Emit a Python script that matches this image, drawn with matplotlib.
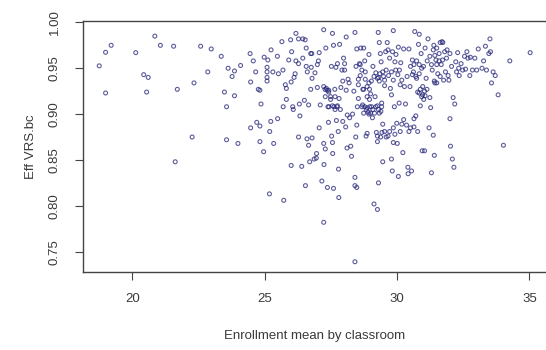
import matplotlib.pyplot as plt

# Enrollment mean by classroom (x) and Eff VRS.bc (y)
enrollment = [
    18.75, 18.99, 18.99, 19.2, 20.13, 20.43, 20.6, 20.54, 20.85, 21.06,
    21.56, 21.7, 21.62, 22.26, 22.33, 22.58, 22.85, 22.98, 23.36, 23.48,
    23.56, 23.56, 23.62, 23.77, 23.86, 23.86, 23.99, 24.09,
    24.45, 24.57, 24.47, 24.47, 24.7, 24.76, 24.82, 24.66, 24.82, 24.86,
    24.82, 24.96, 24.98, 25.24, 25.09, 25.09, 25.09, 25.09, 25.12, 25.19,
    25.23, 25.34, 25.18, 25.31, 25.49, 25.52, 25.48, 25.65, 25.69, 25.7,
    25.72, 25.78, 25.82, 25.82, 25.91, 25.98, 26.0, 26.0, 26.02, 26.06,
    26.11, 26.15, 26.18, 26.18, 26.28, 26.31, 26.28, 26.4, 26.44, 26.53,
    26.5, 26.54, 26.57, 26.6, 26.61, 26.66, 26.66, 26.7, 26.74, 26.78,
    26.74, 26.79, 26.79, 26.87, 26.96, 26.95, 26.99, 27.03, 27.06, 27.06,
    27.1, 26.99, 27.16, 27.23, 27.23, 27.23, 27.24, 27.23, 27.28, 27.29,
    27.31, 27.29, 27.36, 27.37, 27.41, 27.42, 27.43, 27.49, 27.52, 27.53,
    27.56, 27.56, 27.57, 27.6, 27.6, 27.62, 27.65, 27.66, 27.69, 27.71,
    27.73, 27.75, 27.78, 27.79, 27.8, 27.81, 27.83, 27.86, 27.88, 27.92,
    27.95, 27.95, 27.98, 28.02, 28.02, 28.06, 28.08, 28.08, 28.11, 28.12,
    28.15, 28.19, 28.21, 28.25, 28.28, 28.32, 28.37, 28.41, 28.41, 28.41,
    28.48, 28.41, 28.44, 28.48, 28.45, 28.48, 28.5, 28.54, 28.54, 28.58,
    28.61, 28.63, 28.67, 28.71, 28.74, 28.74, 28.78, 28.8, 28.83, 28.87,
    28.87, 28.87, 28.91, 28.94, 28.96, 29.0, 29.03, 29.04, 29.07, 29.09,
    29.13, 29.17, 29.2, 29.22, 29.26, 29.26, 29.29, 29.3, 29.3, 29.33,
    29.33, 29.37, 29.38, 29.4, 29.42, 29.46, 29.46, 29.49, 29.53, 29.57,
    29.59, 29.59, 29.63, 29.66, 29.68, 29.72, 29.75, 29.79, 29.79, 29.82,
    29.86, 29.86, 29.9, 29.92, 29.95, 29.96, 29.99, 30.01, 30.05, 30.05,
    30.08, 30.12, 30.14, 30.18, 30.22, 30.25, 30.28, 30.32, 30.36, 30.38,
    30.41, 30.42, 30.45, 30.49, 30.51, 30.55, 30.58, 30.62, 30.64, 30.67,
    30.71, 30.74, 30.78, 30.81, 30.84, 30.88, 30.91, 30.95, 30.97, 31.0,
    31.04, 31.06, 31.1, 31.13, 31.17, 31.21, 31.24, 31.27, 31.3, 31.33,
    31.37, 31.39, 31.41, 31.43, 31.47, 31.5, 31.54, 31.59, 31.63, 31.67,
    31.7, 31.72, 31.76, 31.8, 31.83, 31.87, 31.89, 31.93, 31.96, 32.0,
    32.0, 32.02, 32.06, 32.09, 32.12, 32.15, 32.18, 32.22, 32.25, 32.29,
    32.33, 32.35, 32.42, 32.48, 32.55, 32.59, 32.64, 32.68, 32.75, 32.77,
    32.85, 32.94, 33.01, 33.07, 33.21, 33.27, 33.34, 33.38, 33.47, 33.51,
    33.53, 33.57, 33.63, 33.71, 33.82, 34.02, 34.26, 35.03,
    28.78, 28.84, 28.94, 28.97, 29.09, 29.15, 29.26, 29.3, 29.39, 29.42,
    29.0, 28.7,
    29.13, 29.2, 29.26, 29.35, 29.46, 29.53, 29.33,
    30.51, 30.64, 30.74, 30.84, 30.93, 30.58, 30.71, 30.84, 30.97, 30.88,
    31.04, 30.93, 31.06, 30.84, 31.01, 31.14, 31.24, 31.3, 31.37, 31.5,
    31.59, 31.43, 31.63, 31.73, 31.5, 31.41,
    27.33, 27.42, 27.49, 27.56, 27.66, 27.75, 27.39,
    28.61, 28.67, 28.54, 28.8, 28.94, 28.74, 28.87, 28.96,
    29.72, 29.83, 29.92, 30.03, 30.09, 30.18, 29.79, 29.86,
    26.44, 26.28, 26.57, 26.76, 26.9, 26.33, 26.08,
    30.45, 30.25, 30.64, 30.78, 30.12, 29.86,
    29.43, 29.53, 29.66, 29.26,
]

eff_vrs = [
    0.9526, 0.9674, 0.923, 0.975, 0.967, 0.943, 0.940, 0.924, 0.985, 0.975,
    0.974, 0.927, 0.848, 0.875, 0.934, 0.974, 0.946, 0.971, 0.963, 0.924,
    0.908, 0.872, 0.950, 0.941, 0.947, 0.920, 0.868, 0.953,
    0.966, 0.958, 0.935, 0.885, 0.891, 0.927, 0.926, 0.946, 0.887, 0.911,
    0.870, 0.859, 0.962, 0.970, 0.951, 0.946, 0.940, 0.936, 0.959, 0.881,
    0.892, 0.868, 0.813, 0.946, 0.895, 0.944, 0.963, 0.979, 0.948, 0.908,
    0.806, 0.932, 0.916, 0.928, 0.959, 0.981, 0.844, 0.935, 0.968, 0.908,
    0.940, 0.944, 0.988, 0.958, 0.982, 0.911, 0.875, 0.843, 0.982, 0.981,
    0.915, 0.822, 0.952, 0.873, 0.946, 0.910, 0.866, 0.848, 0.966, 0.966,
    0.927, 0.939, 0.874, 0.851, 0.857, 0.852, 0.954, 0.958, 0.967, 0.885,
    0.910, 0.929, 0.827, 0.992, 0.782, 0.868, 0.845, 0.930, 0.927, 0.919,
    0.972, 0.862, 0.926, 0.820, 0.891, 0.924, 0.908, 0.919, 0.952, 0.876,
    0.988, 0.869, 0.857, 0.975, 0.819, 0.908, 0.927, 0.919, 0.951, 0.893,
    0.908, 0.955, 0.881, 0.840, 0.809, 0.917, 0.976, 0.905, 0.929, 0.948,
    0.892, 0.936, 0.961, 0.955, 0.948, 0.886, 0.926, 0.984, 0.863, 0.899,
    0.938, 0.934, 0.896, 0.865, 0.854, 0.900, 0.925, 0.989, 0.831, 0.822,
    0.820, 0.739, 0.875, 0.888, 0.952, 0.971, 0.908, 0.917, 0.932, 0.955,
    0.942, 0.972, 0.908, 0.927, 0.972, 0.901, 0.958, 0.946, 0.876, 0.930,
    0.879, 0.907, 0.902, 0.965, 0.927, 0.922, 0.936, 0.908, 0.896, 0.952,
    0.802, 0.919, 0.908, 0.880, 0.796, 0.870, 0.989, 0.825, 0.940, 0.901,
    0.978, 0.966, 0.875, 0.957, 0.912, 0.889, 0.848, 0.941, 0.931, 0.968,
    0.948, 0.875, 0.978, 0.970, 0.942, 0.881, 0.928, 0.851, 0.921, 0.838,
    0.991, 0.885, 0.908, 0.878, 0.948, 0.965, 0.890, 0.868, 0.832, 0.973,
    0.912, 0.932, 0.956, 0.889, 0.858, 0.971, 0.930, 0.911, 0.888, 0.941,
    0.842, 0.835, 0.971, 0.930, 0.885, 0.838, 0.959, 0.946, 0.886, 0.990,
    0.898, 0.939, 0.924, 0.976, 0.987, 0.909, 0.966, 0.860, 0.921, 0.952,
    0.860, 0.972, 0.939, 0.927, 0.982, 0.885, 0.918, 0.907, 0.836, 0.948,
    0.877, 0.975, 0.855, 0.934, 0.959, 0.972, 0.944, 0.966, 0.941, 0.954,
    0.979, 0.959, 0.937, 0.968, 0.946, 0.961, 0.970, 0.942, 0.937, 0.966,
    0.895, 0.865, 0.952, 0.851, 0.918, 0.842, 0.911, 0.957, 0.946, 0.967,
    0.950, 0.942, 0.955, 0.948, 0.963, 0.949, 0.968, 0.961, 0.942, 0.962,
    0.948, 0.961, 0.948, 0.971, 0.950, 0.958, 0.974, 0.948, 0.966, 0.982,
    0.968, 0.934, 0.946, 0.942, 0.921, 0.866, 0.958, 0.967,
    0.908, 0.905, 0.900, 0.908, 0.905, 0.901, 0.909, 0.905, 0.903, 0.908,
    0.901, 0.910,
    0.941, 0.945, 0.939, 0.944, 0.946, 0.937, 0.936,
    0.952, 0.954, 0.958, 0.954, 0.950, 0.943, 0.941, 0.944, 0.930, 0.927,
    0.925, 0.919, 0.920, 0.923, 0.916, 0.958, 0.963, 0.954, 0.970, 0.954,
    0.958, 0.964, 0.978, 0.978, 0.934, 0.936,
    0.928, 0.926, 0.916, 0.909, 0.905, 0.909, 0.908,
    0.954, 0.948, 0.938, 0.938, 0.934, 0.927, 0.919, 0.916,
    0.961, 0.968, 0.957, 0.943, 0.948, 0.937, 0.946, 0.937,
    0.961, 0.955, 0.972, 0.951, 0.945, 0.898, 0.905,
    0.881, 0.894, 0.895, 0.881, 0.881, 0.869,
    0.880, 0.881, 0.876, 0.876,
]

xticks = [20, 25, 30, 35]
yticks = [0.75, 0.80, 0.85, 0.90, 0.95, 1.00]

plt.rcParams['font.family'] = ['Liberation Sans', 'DejaVu Sans']
text_col = '#3a3a3a'

fig = plt.figure(figsize=(5.46, 3.5), dpi=100)
ax = fig.add_axes([0.1515, 0.222, 0.851, 0.718])

ax.scatter(enrollment, eff_vrs, s=8, facecolors='none',
           edgecolors='#26267a', linewidths=0.8, alpha=0.75)

ax.set_xlim(18.126, 35.68)
ax.set_ylim(0.7275, 1.0015)

ax.set_xticks(xticks)
ax.set_xticklabels([str(t) for t in xticks])
ax.set_yticks(yticks)
ax.set_yticklabels(['%.2f' % t for t in yticks], rotation=90, va='center')

ax.tick_params(direction='out', length=6, width=0.8, colors='#444444',
               labelsize=9.5, labelcolor=text_col)
ax.tick_params(axis='x', pad=9)
ax.tick_params(axis='y', pad=10)
for sp in ax.spines.values():
    sp.set_color('#444444')
    sp.set_linewidth(1.0)

ax.set_xlabel('Enrollment mean by classroom', fontsize=9.5, color=text_col, labelpad=18)
ax.set_ylabel('Eff VRS.bc', fontsize=9.5, color=text_col, labelpad=8)

fig.savefig('out.png', dpi=100)
